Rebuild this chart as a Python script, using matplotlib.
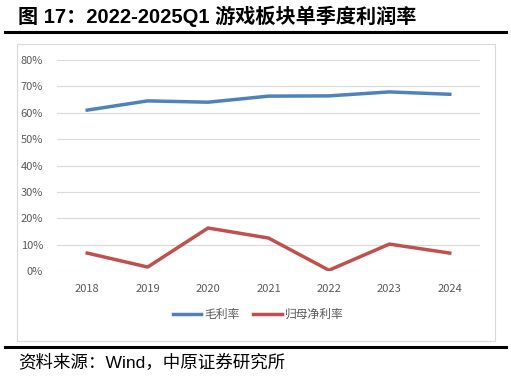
import matplotlib
matplotlib.use('Agg')
import matplotlib.pyplot as plt
from matplotlib.patches import Rectangle
from matplotlib.lines import Line2D

plt.rcParams['font.family'] = ['Noto Sans CJK SC', 'DejaVu Sans']

years = ['2018', '2019', '2020', '2021', '2022', '2023', '2024']
gross_margin = [61.0, 64.5, 64.0, 66.3, 66.4, 67.9, 67.0]
net_margin = [6.8, 1.5, 16.3, 12.5, 0.3, 10.2, 6.8]
yticks = [0, 10, 20, 30, 40, 50, 60, 70, 80]

W, H = 511, 379
fig = plt.figure(figsize=(W / 100, H / 100), dpi=100)

def fx(px):
    return px / W

def fy(py):
    return 1 - py / H

# title and rules
fig.text(fx(18), fy(16), '图 17：2022-2025Q1 游戏板块单季度利润率', fontsize=14.5,
         fontweight='bold', va='center', ha='left', color='black',
         family=['Liberation Sans', 'Noto Sans CJK SC'])
fig.add_artist(Line2D([fx(5), fx(506)], [fy(32), fy(32)], color='black', lw=2.2))
fig.add_artist(Rectangle((fx(17), fy(341)), fx(495) - fx(17), fy(44) - fy(341),
                         fill=False, edgecolor='#d9d9d9', lw=0.8))
fig.add_artist(Line2D([fx(5), fx(506)], [fy(347), fy(347)], color='black', lw=2.2))
fig.text(fx(18), fy(362), '资料来源：Wind，中原证券研究所', fontsize=12.6,
         va='center', ha='left', color='black',
         family=['Liberation Sans', 'Noto Sans CJK SC'])

# plot area
ax = fig.add_axes([fx(57), fy(271), fx(480) - fx(57), fy(60) - fy(271)])
x = range(len(years))
ax.plot(x, gross_margin, color='#4f81bd', lw=2.5, label='毛利率')
ax.plot(x, net_margin, color='#c0504d', lw=2.5, label='归母净利率')
ax.set_xlim(-0.5, len(years) - 0.5)
ax.set_ylim(0, 80)
ax.set_yticks(yticks)
ax.set_yticklabels([f'{v}%' for v in yticks])
ax.set_xticks(list(x))
ax.set_xticklabels(years)
ax.grid(axis='y', color='#d9d9d9', lw=0.8)
ax.set_axisbelow(True)
for s in ax.spines.values():
    s.set_visible(False)
ax.tick_params(length=0, colors='#595959', labelsize=8)
ax.tick_params(axis='x', pad=9)
ax.tick_params(axis='y', pad=10)

ax.legend(loc='upper center', bbox_to_anchor=(0.475, -0.125), ncol=2, frameon=False,
          fontsize=8.5, labelcolor='#595959', handlelength=2.4, columnspacing=1.2,
          handletextpad=0.25)

fig.savefig('out.png', dpi=100)
